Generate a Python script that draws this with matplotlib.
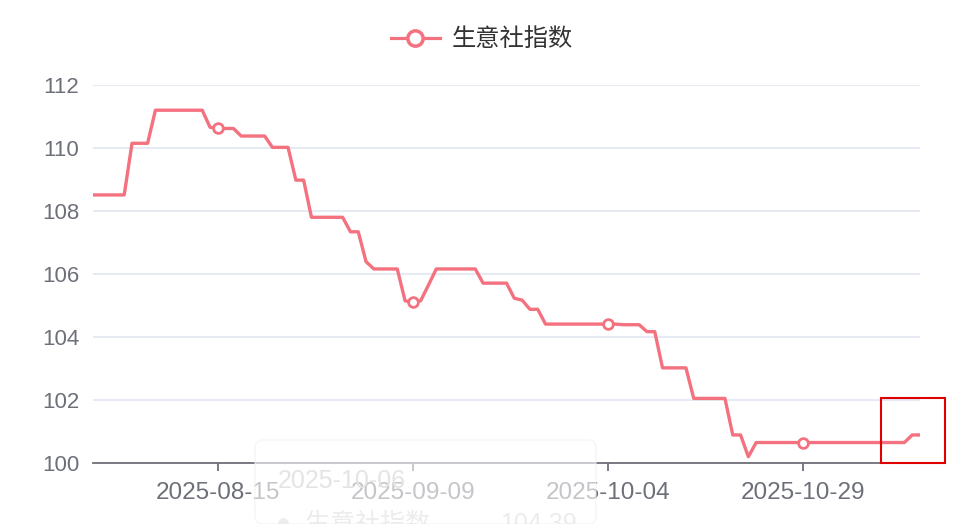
import numpy as np
import pandas as pd
import matplotlib
matplotlib.use("Agg")
from matplotlib import pyplot as plt
from matplotlib.patches import Rectangle, FancyBboxPatch

plt.rcParams['font.family'] = ['Liberation Sans', 'Noto Sans CJK SC', 'DejaVu Sans']

# data, one value per day, 2025-07-30 .. 2025-11-13
dates = pd.date_range("2025-07-30", "2025-11-13", freq="D").strftime("%Y-%m-%d").tolist()
values = [
    108.51, 108.51, 108.51, 108.51, 108.51, 110.15, 110.15, 110.15, 111.2, 111.2,
    111.2, 111.2, 111.2, 111.2, 111.2, 110.66, 110.62, 110.62, 110.62, 110.38,
    110.38, 110.38, 110.38, 110.02, 110.02, 110.02, 108.98, 108.98, 107.8, 107.8,
    107.8, 107.8, 107.8, 107.34, 107.34, 106.39, 106.16, 106.16, 106.16, 106.16,
    105.15, 105.1, 105.15, 105.65, 106.16, 106.16, 106.16, 106.16, 106.16, 106.16,
    105.71, 105.71, 105.71, 105.71, 105.23, 105.17, 104.88, 104.88, 104.41, 104.41,
    104.41, 104.41, 104.41, 104.41, 104.41, 104.41, 104.41, 104.41, 104.39, 104.39,
    104.39, 104.17, 104.17, 103.02, 103.02, 103.02, 103.02, 102.05, 102.05, 102.05,
    102.05, 102.05, 100.89, 100.89, 100.2, 100.65, 100.65, 100.65, 100.65, 100.65,
    100.65, 100.65, 100.65, 100.65, 100.65, 100.65, 100.65, 100.65, 100.65, 100.65,
    100.65, 100.65, 100.65, 100.65, 100.65, 100.89, 100.89,
]
series_name = "生意社指数"
tick_idx = [16, 41, 66, 91]
yticks = [100, 102, 104, 106, 108, 110, 112]
tip_date = "2025-10-06"
tip_value = "104.39"

color = "#f4717f"
axis_grey = "#6e7079"

fig = plt.figure(figsize=(9.8, 5.24), dpi=100)
ax = fig.add_axes([93 / 980, 1 - 463 / 524, 827 / 980, 378 / 524])

x = np.arange(len(values))
ax.plot(x, values, color=color, lw=2.4, solid_joinstyle="round", zorder=3)
ax.plot(x[tick_idx], np.array(values)[tick_idx], ls="none", marker="o", ms=7,
        mfc="white", mec=color, mew=2, zorder=4)

ax.set_xlim(0, len(values) - 1)
ax.set_ylim(100, 112)
ax.set_yticks(yticks)
ax.set_xticks(tick_idx)
ax.set_xticklabels([dates[i] for i in tick_idx])
ax.grid(axis="y", color="#e0e6f1", lw=1.2)
ax.set_axisbelow(True)
for s in ["top", "right", "left"]:
    ax.spines[s].set_visible(False)
ax.spines["bottom"].set_color(axis_grey)
ax.spines["bottom"].set_linewidth(1.3)
ax.tick_params(axis="y", length=0, pad=10, labelsize=16, labelcolor=axis_grey)
ax.tick_params(axis="x", length=6, width=1.3, color=axis_grey, pad=8,
               labelsize=17.5, labelcolor=axis_grey)

# legend
leg = ax.legend([plt.Line2D([], [], color=color, lw=2.3, marker="o", ms=11,
                            mfc="white", mec=color, mew=2.5)],
                [series_name], loc="center", bbox_to_anchor=(482 / 980, 1 - 40 / 524),
                bbox_transform=fig.transFigure, frameon=False, fontsize=17.5,
                handlelength=2.0, handletextpad=0.5)
for t in leg.get_texts():
    t.set_color("#333333")

# fading tooltip ghost
tip = FancyBboxPatch((255, 0), 341, 84, boxstyle="round,pad=0,rounding_size=8",
                     transform=None, facecolor="white", edgecolor="#f0f0f0",
                     alpha=0.6, lw=1, zorder=10)
fig.patches.append(tip)
fig.text(278 / 980, 1 - 481 / 524, tip_date, fontsize=18, color="#e4e4e4",
         va="center", zorder=11)
fig.text(276 / 980, 1 - 524 / 524, "●  " + series_name, fontsize=18,
         color="#ececec", va="center", zorder=11)
fig.text(500 / 980, 1 - 524 / 524, tip_value, fontsize=18, color="#ececec",
         va="center", zorder=11)

# red highlight box
fig.patches.append(Rectangle((881, 524 - 463), 64, 65, transform=None,
                             fill=False, edgecolor="#e00000", lw=1.5, zorder=12))

fig.savefig("out.png", dpi=100)
